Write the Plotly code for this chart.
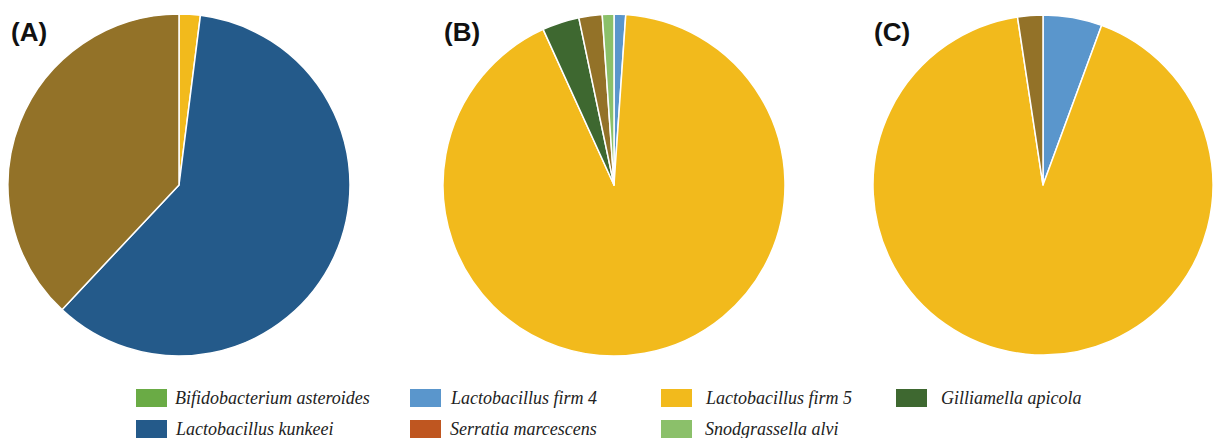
import plotly.graph_objects as go

# Relative abundance (%) per sample, listed clockwise from 12 o'clock
labels_a = ["Lactobacillus firm 5", "Lactobacillus kunkeei", "Others"]
values_a = [2.0, 60.0, 38.0]

labels_b = ["Lactobacillus firm 4", "Lactobacillus firm 5", "Gilliamella apicola",
            "Others", "Snodgrassella alvi"]
values_b = [1.1, 92.1, 3.5, 2.2, 1.1]

labels_c = ["Lactobacillus firm 4", "Lactobacillus firm 5", "Others"]
values_c = [5.6, 92.0, 2.4]

panel_titles = ["(A)", "(B)", "(C)"]

# Legend entries, laid out column by column
legend_columns = [
    ["Bifidobacterium asteroides", "Lactobacillus kunkeei"],
    ["Lactobacillus firm 4", "Serratia marcescens"],
    ["Lactobacillus firm 5", "Snodgrassella alvi"],
    ["Gilliamella apicola"],
]

colors = {
    "Bifidobacterium asteroides": "#6AAB45",
    "Lactobacillus kunkeei": "#245A8A",
    "Lactobacillus firm 4": "#5A96CC",
    "Serratia marcescens": "#BF5620",
    "Lactobacillus firm 5": "#F2BA1C",
    "Snodgrassella alvi": "#8BC06A",
    "Gilliamella apicola": "#3E6830",
    "Others": "#937228",
}

W, H = 1213, 438
fig = go.Figure()

pies = [(labels_a, values_a, 8, 350), (labels_b, values_b, 443, 785), (labels_c, values_c, 873, 1213)]
y_dom = [1 - 356 / H, 1 - 14 / H]
for labels, values, x0, x1 in pies:
    fig.add_trace(go.Pie(
        labels=labels, values=values, sort=False, direction="clockwise", rotation=0,
        marker=dict(colors=[colors[l] for l in labels], line=dict(color="#FFFFFF", width=1.5)),
        textinfo="none", hoverinfo="label+percent", showlegend=False,
        domain=dict(x=[x0 / W, x1 / W], y=y_dom),
    ))

shapes, annotations = [], []

# Panel letters
for title, x in zip(panel_titles, [9, 442, 872]):
    annotations.append(dict(
        text=title, x=x / W, y=1 - 15 / H, xref="paper", yref="paper",
        xanchor="left", yanchor="top", showarrow=False,
        font=dict(family="Liberation Sans", size=26, color="#111111", weight="bold"),
    ))

# Legend: swatch + italic serif label
col_x = [136, 410, 661, 896]
text_x = [173, 448, 703, 939]
row_y = [389, 420]
for col, sx, tx in zip(legend_columns, col_x, text_x):
    for name, ry in zip(col, row_y):
        shapes.append(dict(
            type="rect", xref="paper", yref="paper",
            x0=sx / W, x1=(sx + 31) / W, y0=1 - (ry + 18) / H, y1=1 - ry / H,
            fillcolor=colors[name], line=dict(width=0),
        ))
        annotations.append(dict(
            text=f"<i>{name}</i>", x=tx / W, y=1 - (ry + 9) / H,
            xref="paper", yref="paper", xanchor="left", yanchor="middle", showarrow=False,
            font=dict(family="Liberation Serif", size=18, color="#222222"),
        ))

fig.update_layout(
    width=W, height=H, margin=dict(l=0, r=0, t=0, b=0),
    paper_bgcolor="#FFFFFF", plot_bgcolor="#FFFFFF",
    shapes=shapes, annotations=annotations, showlegend=False,
)

fig.write_html("out.html")
